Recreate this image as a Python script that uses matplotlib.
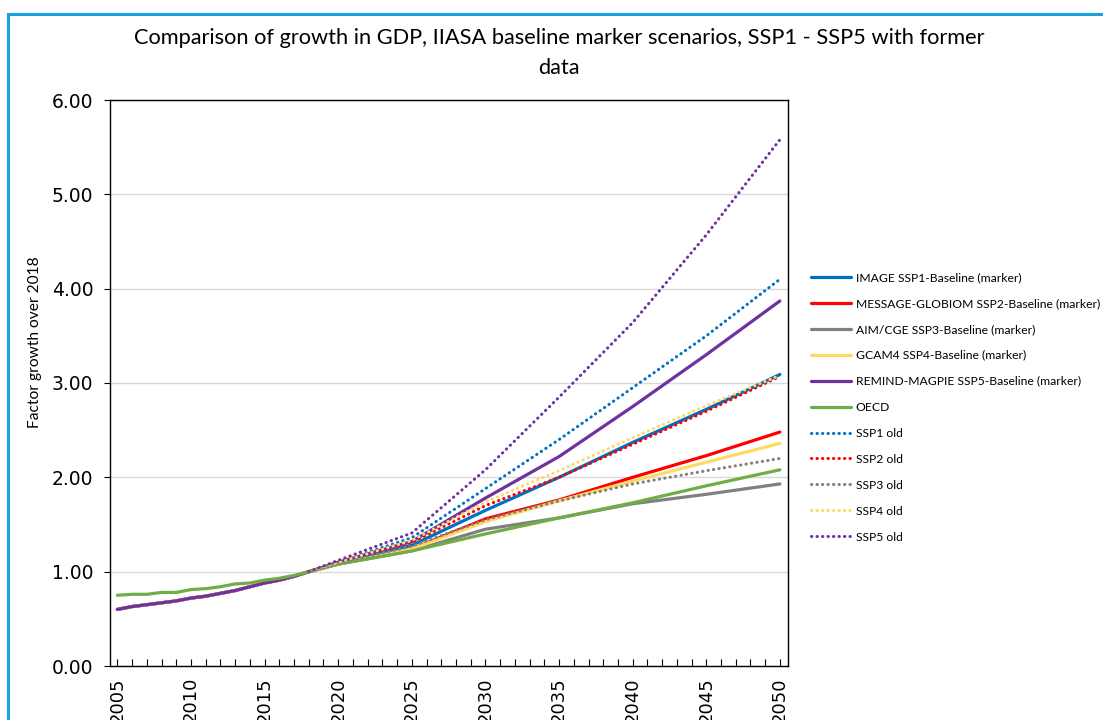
import matplotlib.pyplot as plt
from matplotlib.patches import Rectangle
from matplotlib.ticker import MultipleLocator

narrow = 'Lato'

years = list(range(2005, 2021)) + [2025, 2030, 2035, 2040, 2045, 2050]
old_years = [2018, 2020, 2025, 2030, 2035, 2040, 2045, 2050]

hist = [0.60, 0.63, 0.65, 0.67, 0.69, 0.72, 0.74, 0.77, 0.80, 0.84, 0.88, 0.91, 0.95, 1.00]

image_ssp1 = hist + [1.04, 1.09, 1.28, 1.65, 2.00, 2.37, 2.72, 3.09]
message_ssp2 = hist + [1.04, 1.08, 1.24, 1.56, 1.76, 2.00, 2.23, 2.48]
aim_ssp3 = hist + [1.04, 1.08, 1.22, 1.45, 1.57, 1.72, 1.82, 1.93]
gcam_ssp4 = hist + [1.04, 1.08, 1.24, 1.53, 1.75, 1.96, 2.16, 2.36]
remind_ssp5 = hist + [1.05, 1.10, 1.32, 1.78, 2.22, 2.75, 3.30, 3.87]
oecd = [0.75, 0.76, 0.76, 0.78, 0.78, 0.81, 0.82, 0.84, 0.87, 0.88, 0.91, 0.93,
        0.96, 1.00, 1.04, 1.08, 1.22, 1.40, 1.57, 1.73, 1.91, 2.08]

ssp1_old = [1.00, 1.10, 1.36, 1.88, 2.40, 2.95, 3.50, 4.10]
ssp2_old = [1.00, 1.10, 1.31, 1.70, 2.00, 2.35, 2.70, 3.07]
ssp3_old = [1.00, 1.09, 1.27, 1.55, 1.75, 1.93, 2.07, 2.20]
ssp4_old = [1.00, 1.10, 1.33, 1.74, 2.07, 2.42, 2.76, 3.08]
ssp5_old = [1.00, 1.12, 1.41, 2.08, 2.85, 3.64, 4.57, 5.58]

labels = ['IMAGE SSP1-Baseline (marker)', 'MESSAGE-GLOBIOM SSP2-Baseline (marker)',
          'AIM/CGE SSP3-Baseline (marker)', 'GCAM4 SSP4-Baseline (marker)',
          'REMIND-MAGPIE SSP5-Baseline (marker)', 'OECD',
          'SSP1 old', 'SSP2 old', 'SSP3 old', 'SSP4 old', 'SSP5 old']
colors = ['#0070C0', '#FF0000', '#808080', '#FFD966', '#7030A0', '#70AD47']

fig = plt.figure(figsize=(11.03, 7.2), dpi=100)
ax = fig.add_axes([110/1103, 54/720, 678/1103, 566/720])

solid = [image_ssp1, message_ssp2, aim_ssp3, gcam_ssp4, remind_ssp5, oecd]
for vals, c, lab in zip(solid, colors, labels[:6]):
    ax.plot(years, vals, color=c, lw=2.3, label=lab, solid_capstyle='round')

old = [ssp1_old, ssp2_old, ssp3_old, ssp4_old, ssp5_old]
for vals, c, lab in zip(old, colors[:5], labels[6:]):
    ax.plot(old_years, vals, color=c, lw=2.2, label=lab,
            linestyle=(0, (0.1, 1.7)), dash_capstyle='round')

ax.set_xlim(2004.5, 2050.55)
ax.set_ylim(0, 6)
ax.yaxis.set_major_locator(MultipleLocator(1))
ax.yaxis.set_major_formatter(lambda v, p: f'{v:.2f}')
ax.grid(axis='y', color='#D9D9D9', lw=1)
ax.set_axisbelow(True)

ax.set_xticks(range(2005, 2051, 5))
ax.set_xticks(range(2005, 2051), minor=True)
ax.tick_params(axis='x', which='both', direction='in', length=5, width=0.8,
               labelrotation=90, labelsize=13, pad=8)
ax.tick_params(axis='y', direction='out', length=4, labelsize=13.5, pad=8)
for s in ax.spines.values():
    s.set_color('black')
    s.set_linewidth(1)

fig.text(35/1103, 1 - 342/720, 'Factor growth over 2018', family=narrow,
         fontsize=11.2, rotation=90, ha='center', va='center')
fig.text(0.507, 1 - 28/720, 'Comparison of growth in GDP, IIASA baseline marker scenarios, SSP1 - SSP5 with former\ndata',
         ha='center', va='top', family=narrow, fontsize=15.7, linespacing=1.6)

ax.legend(loc='upper left', bbox_to_anchor=(806/1103, 1 - 267/720),
          bbox_transform=fig.transFigure, frameon=False, borderaxespad=0,
          prop={'family': narrow, 'size': 8.7}, handlelength=3.3,
          handletextpad=0.4, labelspacing=1.24)

# light blue chart border
fig.patches.append(Rectangle((8/1103, -0.2), 2, 1 - 14/720 + 0.2,
                             transform=fig.transFigure, fill=False,
                             edgecolor='#1BA1E2', lw=2.2))

fig.savefig('out.png', dpi=100)
